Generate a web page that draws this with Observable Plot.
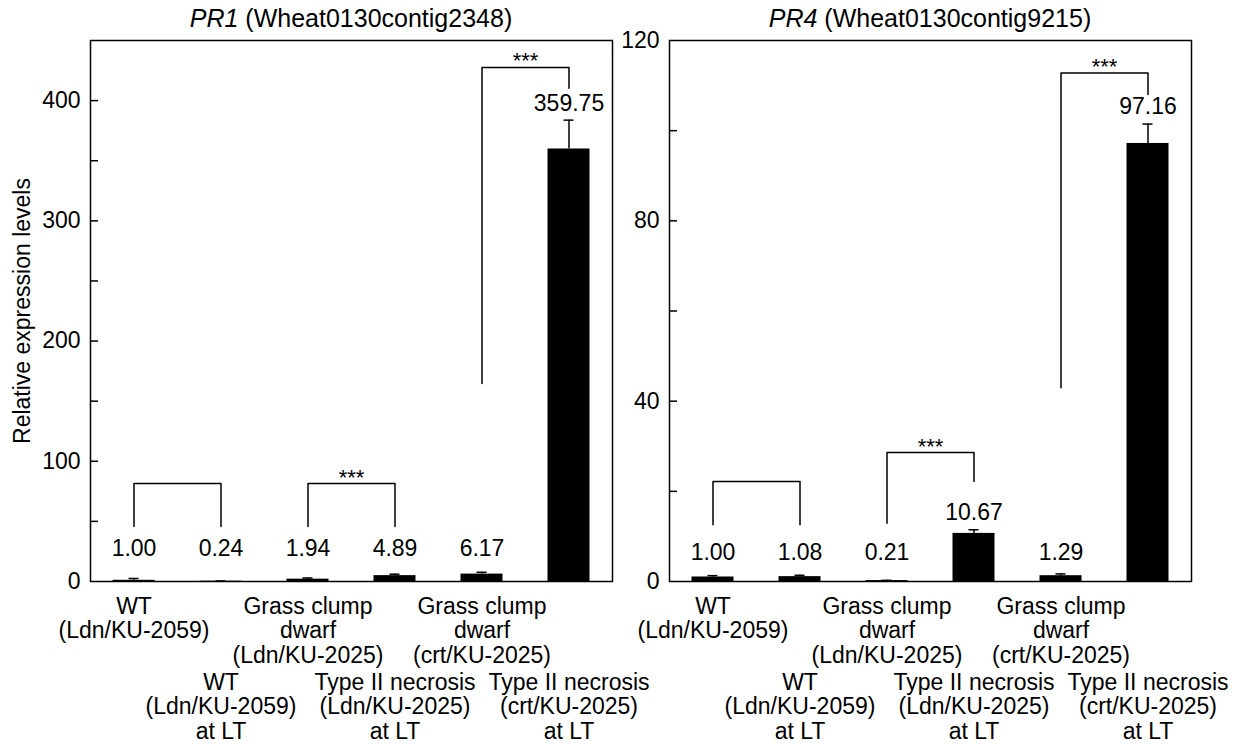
<!DOCTYPE html>
<html>
<head>
<meta charset="utf-8">
<script src="https://cdn.jsdelivr.net/npm/d3@7"></script>
<script src="https://cdn.jsdelivr.net/npm/@observablehq/plot@0.6"></script>
<style>
  html, body { margin: 0; padding: 0; background: #fff; }
  #wrap { position: relative; width: 1240px; height: 744px; font-family: "Liberation Sans", Arial, sans-serif; color: #000; background: #fff; }
  .panel { position: absolute; top: 0; }
  .panel svg { overflow: visible; }
  .title { position: absolute; top: 5px; height: 26px; line-height: 26px; font-size: 25px; text-align: center; white-space: nowrap; z-index: 5; }
</style>
</head>
<body>
<div id="wrap">
  <div id="left" class="panel" style="left:0px;z-index:2;"></div>
  <div id="right" class="panel" style="left:620px;z-index:1;"></div>
  <div class="title" style="left:90px;width:522px;"><i>PR1</i> (Wheat0130contig2348)</div>
  <div class="title" style="left:669px;width:522px;"><i>PR4</i> (Wheat0130contig9215)</div>
</div>
<script>
// ---- data ----
const categories = [
  "WT\n(Ldn/KU-2059)",
  "WT\n(Ldn/KU-2059)\nat LT",
  "Grass clump\ndwarf\n(Ldn/KU-2025)",
  "Type II necrosis\n(Ldn/KU-2025)\nat LT",
  "Grass clump\ndwarf\n(crt/KU-2025)",
  "Type II necrosis\n(crt/KU-2025)\nat LT"
];
const pr1Values = [1.00, 0.24, 1.94, 4.89, 6.17, 359.75];
const pr1Errors = [1.5, 0.2, 1.0, 1.2, 1.5, 24];
const pr4Values = [1.00, 1.08, 0.21, 10.67, 1.29, 97.16];
const pr4Errors = [0.3, 0.3, 0.05, 0.8, 0.4, 4.3];

const pr1Ticks = [0, 100, 200, 300, 400];
const pr1MinorTicks = [50, 100, 150, 200, 250, 300, 350, 400];
const pr4Ticks = [0, 40, 80, 120];
const pr4MinorTicks = [20, 40, 60, 80, 100];

// significance brackets: category indices, bracket top and the lower ends of each leg
const pr1Brackets = [
  {from: 0, to: 1, top: 81.5, fromEnd: 45.7, toEnd: 45.7, mark: ""},
  {from: 2, to: 3, top: 81.5, fromEnd: 45.7, toEnd: 45.7, mark: "***"},
  {from: 4, to: 5, top: 427.6, fromEnd: 164.7, toEnd: 410.2, mark: "***"}
];
const pr4Brackets = [
  {from: 0, to: 1, top: 22.2, fromEnd: 12.6, toEnd: 12.6, mark: ""},
  {from: 2, to: 3, top: 28.6, fromEnd: 12.9, toEnd: 22.2, mark: "***"},
  {from: 4, to: 5, top: 112.8, fromEnd: 43.0, toEnd: 108.0, mark: "***"}
];

const FONT = "Liberation Sans, Arial, sans-serif";
const FS = 23;

function panel({values, errors, brackets, yMax, ticks, minorTicks, labelFloor, marginLeft, marginRight, yLabel}) {
  const rows = categories.map((c, i) => ({cat: c, i, value: values[i], err: errors[i]}));
  const bracketPts = brackets.flatMap((b, k) => [
    {k, cat: categories[b.from], y: b.fromEnd},
    {k, cat: categories[b.from], y: b.top},
    {k, cat: categories[b.to], y: b.top},
    {k, cat: categories[b.to], y: b.toEnd}
  ]);
  const starData = brackets.filter(b => b.mark).map(b => ({
    cat0: categories[b.from], y: b.top, mark: b.mark
  }));
  const width = 620, height = 744, marginTop = 40, marginBottom = 163;
  const innerW = width - marginLeft - marginRight;
  const step = innerW / categories.length;
  const barInset = (step - 42) / 2;
  const capInset = (step - 10) / 2;
  const marks = [
    Plot.barY(rows, {x: "cat", y: "value", fill: "black", insetLeft: barInset, insetRight: barInset}),
    Plot.ruleX(rows, {x: "cat", y1: "value", y2: d => d.value + d.err, stroke: "black", strokeWidth: 1.5}),
    Plot.tickY(rows, {x: "cat", y: d => d.value + d.err, stroke: "black", strokeWidth: 1.5, insetLeft: capInset, insetRight: capInset}),
    Plot.line(bracketPts, {x: "cat", y: "y", z: "k", stroke: "black", strokeWidth: 1.5, curve: "linear"}),
    Plot.text(starData, {
      x: d => d.cat0, dx: step / 2, y: "y", dy: -6, text: "mark",
      fontSize: 22, fill: "black", lineAnchor: "middle"
    }),
    Plot.text(rows, {
      x: "cat", y: d => Math.max(d.value + d.err, labelFloor), dy: -17,
      text: d => d.value.toFixed(2), fontSize: FS, fill: "black", lineAnchor: "middle"
    }),
    Plot.ruleY(minorTicks, {y: d => d, stroke: "black", strokeWidth: 1.5, insetRight: innerW - 8}),
    Plot.axisY({ticks, tickSize: 0, tickPadding: 10, label: null, fontSize: FS}),
    Plot.text(categories.filter((c, i) => i % 2 === 0), {
      x: d => d, text: d => d, frameAnchor: "bottom", lineAnchor: "top", dy: 15,
      lineHeight: 1.065, fontSize: FS, fill: "black"
    }),
    Plot.text(categories.filter((c, i) => i % 2 === 1), {
      x: d => d, text: d => d, frameAnchor: "bottom", lineAnchor: "top", dy: 91,
      lineHeight: 1.065, fontSize: FS, fill: "black"
    }),
    Plot.frame({stroke: "black", strokeWidth: 1.5})
  ];
  if (yLabel) {
    marks.push(Plot.text([yLabel], {
      frameAnchor: "left", rotate: -90, dx: -(marginLeft - 22), text: d => d,
      textAnchor: "middle", fontSize: FS, fill: "black", lineAnchor: "middle"
    }));
  }
  return Plot.plot({
    width, height, marginTop, marginBottom, marginLeft, marginRight,
    style: {fontFamily: FONT, fontSize: FS + "px", color: "black", background: "transparent", overflow: "visible"},
    x: {domain: categories, padding: 0, axis: null},
    y: {domain: [0, yMax], axis: null},
    marks
  });
}

document.getElementById("left").append(panel({
  values: pr1Values, errors: pr1Errors, brackets: pr1Brackets, yMax: 450,
  ticks: pr1Ticks, minorTicks: pr1MinorTicks, labelFloor: 13.3,
  marginLeft: 90, marginRight: 8, yLabel: "Relative expression levels"
}));
document.getElementById("right").append(panel({
  values: pr4Values, errors: pr4Errors, brackets: pr4Brackets, yMax: 120,
  ticks: pr4Ticks, minorTicks: pr4MinorTicks, labelFloor: 2.7,
  marginLeft: 49, marginRight: 49, yLabel: null
}));
</script>
</body>
</html>
